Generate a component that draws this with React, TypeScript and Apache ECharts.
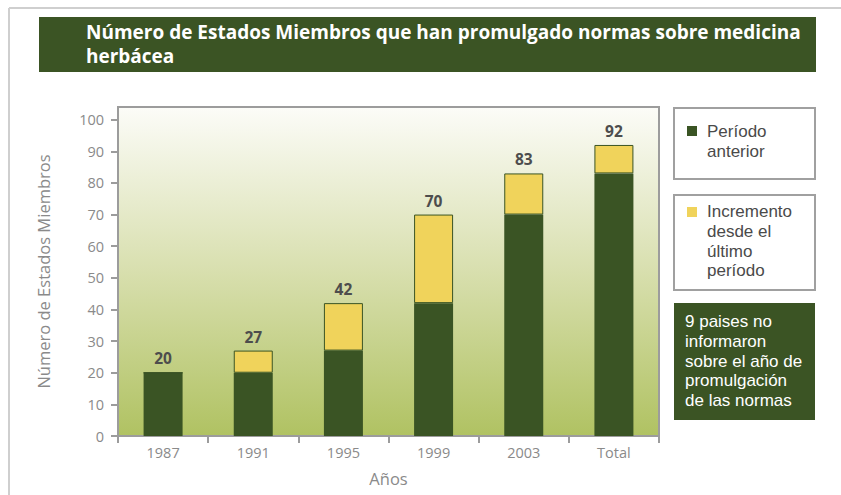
import React, { useEffect, useRef } from "react";
import * as echarts from "echarts";

const categories = ["1987", "1991", "1995", "1999", "2003", "Total"];
const previousPeriod = [20, 20, 27, 42, 70, 83];
const increment = [0, 7, 15, 28, 13, 9];
const totals = [20, 27, 42, 70, 83, 92];
const yTicks = [0, 10, 20, 30, 40, 50, 60, 70, 80, 90, 100];

const titleText = "Número de Estados Miembros que han promulgado normas sobre medicina\nherbácea";
const legendPrev = "Período\nanterior";
const legendInc = "Incremento\ndesde el\núltimo\nperíodo";
const noteText = "9 paises no\ninformaron\nsobre el año de\npromulgación\nde las normas";

const DARK = "#3a5424";
const YELLOW = "#f0d35b";
const GRAY = "#8a8a8a";
const FONT = "'Open Sans', 'Noto Sans', sans-serif";
const BOX_FONT = "'Liberation Sans', Arial, sans-serif";

export default function App() {
  const ref = useRef<HTMLDivElement>(null);
  useEffect(() => {
    if (!ref.current) return;
    const chart = echarts.init(ref.current, null, { renderer: "svg" });
    chart.setOption({
      animation: false,
      textStyle: { fontFamily: FONT },
      grid: {
        left: 118,
        right: 182,
        top: 107,
        bottom: 59,
        show: true,
        borderColor: "#9c9c9c",
        borderWidth: 2,
        backgroundColor: new echarts.graphic.LinearGradient(0, 0, 0, 1, [
          { offset: 0, color: "#fcfcf8" },
          { offset: 0.5, color: "#d8dfae" },
          { offset: 1, color: "#b0c262" },
        ]),
      },
      xAxis: {
        type: "category",
        data: categories,
        name: "Años",
        nameLocation: "middle",
        nameGap: 34,
        nameTextStyle: { color: GRAY, fontSize: 16.5, fontFamily: FONT },
        axisLine: { lineStyle: { color: "#9c9c9c", width: 2 } },
        axisTick: { show: true, length: 7, lineStyle: { color: "#9c9c9c", width: 2 } },
        axisLabel: { color: GRAY, fontSize: 14.5, margin: 9, fontFamily: FONT },
      },
      yAxis: {
        type: "value",
        min: 0,
        max: 104,
        interval: 10,
        name: "Número de Estados Miembros",
        nameLocation: "middle",
        nameGap: 66,
        nameRotate: 90,
        nameTextStyle: { color: GRAY, fontSize: 16.5, fontFamily: FONT },
        splitLine: { show: false },
        axisLine: { show: true, lineStyle: { color: "#9c9c9c", width: 2 } },
        axisTick: { show: true, length: 7, customValues: yTicks, lineStyle: { color: "#9c9c9c", width: 2 } },
        axisLabel: { color: GRAY, fontSize: 14.5, margin: 14, customValues: yTicks, fontFamily: FONT },
      },
      series: [
        {
          name: "Período anterior",
          type: "bar",
          stack: "total",
          barWidth: 39,
          data: previousPeriod,
          itemStyle: { color: DARK },
        },
        {
          name: "Incremento desde el último período",
          type: "bar",
          stack: "total",
          barWidth: 39,
          data: increment,
          itemStyle: { color: YELLOW, borderColor: DARK, borderWidth: 1 },
          label: {
            show: true,
            position: "top",
            distance: 6,
            formatter: (p: any) => String(totals[p.dataIndex]),
            color: "#4d4d4d",
            fontSize: 15.5,
            fontWeight: "bold",
            fontFamily: FONT,
          },
        },
      ],
      graphic: [
        { type: "line", shape: { x1: 9, y1: 8, x2: 841, y2: 8 }, style: { stroke: "#cfcfcf", lineWidth: 2 } },
        { type: "line", shape: { x1: 9, y1: 8, x2: 9, y2: 495 }, style: { stroke: "#cfcfcf", lineWidth: 2 } },
        { type: "rect", shape: { x: 39, y: 17, width: 777, height: 55 }, style: { fill: "#3b5424" } },
        {
          type: "text",
          x: 86,
          y: 20,
          style: { text: titleText, fill: "#ffffff", fontSize: 19, fontWeight: "bold", lineHeight: 24, fontFamily: FONT },
        },
        { type: "rect", shape: { x: 674, y: 108, width: 141, height: 71 }, style: { fill: "#ffffff", stroke: "#a0a0a0", lineWidth: 2 } },
        { type: "rect", shape: { x: 687, y: 126, width: 10, height: 10 }, style: { fill: DARK } },
        {
          type: "text",
          x: 707,
          y: 121,
          style: { text: legendPrev, fill: "#4a4a4a", fontSize: 17, lineHeight: 20, fontFamily: BOX_FONT },
        },
        { type: "rect", shape: { x: 674, y: 195, width: 141, height: 95 }, style: { fill: "#ffffff", stroke: "#a0a0a0", lineWidth: 2 } },
        { type: "rect", shape: { x: 687, y: 207, width: 10, height: 10 }, style: { fill: YELLOW } },
        {
          type: "text",
          x: 707,
          y: 202,
          style: { text: legendInc, fill: "#4a4a4a", fontSize: 17, lineHeight: 19.6, fontFamily: BOX_FONT },
        },
        { type: "rect", shape: { x: 674, y: 303, width: 141, height: 117 }, style: { fill: "#3b5424" } },
        {
          type: "text",
          x: 685,
          y: 312,
          style: { text: noteText, fill: "#ffffff", fontSize: 17, lineHeight: 19.6, fontFamily: BOX_FONT },
        },
      ],
    });
    return () => chart.dispose();
  }, []);
  return <div ref={ref} style={{ width: 841, height: 495, position: "absolute", left: 0, top: 0 }} />;
}
